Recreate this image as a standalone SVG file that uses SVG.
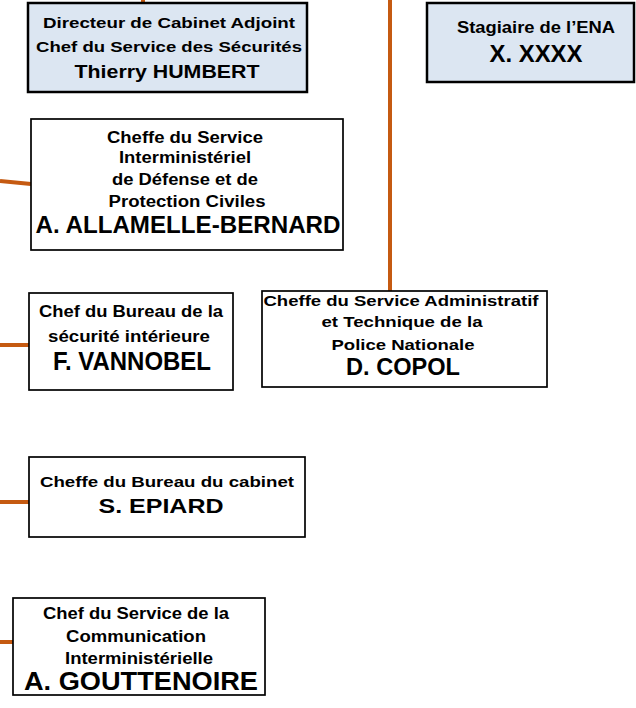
<svg xmlns="http://www.w3.org/2000/svg" width="636" height="708" viewBox="0 0 636 708">
<style>
text{font-family:"Liberation Sans",Arial,sans-serif;font-weight:bold;fill:#000;text-anchor:middle}
.s{font-size:15px}
.m{font-size:16px}
.n{font-size:17px}
.l{font-size:24px}
.box{fill:#fff;stroke:#000;stroke-width:1.7}
.blue{fill:#dce6f2;stroke:#000;stroke-width:2.5}
.c{stroke:#c55a11;stroke-width:4;fill:none}
</style>
<rect width="636" height="708" fill="#fff"/>
<g id="connectors">
<line class="c" x1="143" y1="0" x2="143" y2="4"/>
<line class="c" x1="390" y1="0" x2="390" y2="291"/>
<line class="c" x1="0" y1="181" x2="31" y2="184"/>
<line class="c" x1="0" y1="345" x2="29" y2="345"/>
<line class="c" x1="0" y1="502" x2="29" y2="502"/>
<line class="c" x1="0" y1="642" x2="13" y2="642"/>
</g>
<g id="directeur">
<rect class="blue" x="28" y="3" width="279" height="89"/>
<text class="s" x="169" y="28" textLength="252" lengthAdjust="spacingAndGlyphs">Directeur de Cabinet Adjoint</text>
<text class="s" x="169" y="52" textLength="266" lengthAdjust="spacingAndGlyphs">Chef du Service des Sécurités</text>
<text x="167" y="78" font-size="18" textLength="185" lengthAdjust="spacingAndGlyphs">Thierry  HUMBERT</text>
</g>
<g id="stagiaire">
<rect class="blue" x="427" y="3" width="207" height="79"/>
<text class="m" x="536" y="33" textLength="158" lengthAdjust="spacingAndGlyphs">Stagiaire de l’ENA</text>
<text x="536" y="62" font-size="23" textLength="93" lengthAdjust="spacingAndGlyphs">X. XXXX</text>
</g>
<g id="allamelle">
<rect class="box" x="31" y="119" width="312" height="131"/>
<text class="m" x="185" y="143" textLength="156" lengthAdjust="spacingAndGlyphs">Cheffe du Service</text>
<text class="m" x="185" y="163" textLength="132" lengthAdjust="spacingAndGlyphs">Interministériel</text>
<text class="m" x="185" y="185" textLength="146" lengthAdjust="spacingAndGlyphs">de Défense et de</text>
<text class="m" x="187" y="207" textLength="157" lengthAdjust="spacingAndGlyphs">Protection Civiles</text>
<text class="l" x="188" y="233" textLength="305" lengthAdjust="spacingAndGlyphs">A. ALLAMELLE-BERNARD</text>
</g>
<g id="vannobel">
<rect class="box" x="29" y="293" width="204" height="97"/>
<text class="n" x="131" y="317" textLength="184" lengthAdjust="spacingAndGlyphs">Chef du Bureau de la</text>
<text class="n" x="129" y="342" textLength="162" lengthAdjust="spacingAndGlyphs">sécurité intérieure</text>
<text x="132" y="370" font-size="25" textLength="158" lengthAdjust="spacingAndGlyphs">F. VANNOBEL</text>
</g>
<g id="copol">
<rect class="box" x="262" y="291" width="285" height="96"/>
<text class="s" x="401" y="306" textLength="275" lengthAdjust="spacingAndGlyphs">Cheffe du Service Administratif</text>
<text class="s" x="402" y="327" textLength="161" lengthAdjust="spacingAndGlyphs">et Technique de la</text>
<text class="s" x="403" y="350" textLength="143" lengthAdjust="spacingAndGlyphs">Police Nationale</text>
<text class="l" x="403" y="375" textLength="114" lengthAdjust="spacingAndGlyphs">D. COPOL</text>
</g>
<g id="epiard">
<rect class="box" x="29" y="457" width="276" height="80"/>
<text class="s" x="167" y="487" textLength="254" lengthAdjust="spacingAndGlyphs">Cheffe du Bureau du cabinet</text>
<text x="161" y="513" font-size="21" textLength="125" lengthAdjust="spacingAndGlyphs">S. EPIARD</text>
</g>
<g id="gouttenoire">
<rect class="box" x="13" y="598" width="252" height="97"/>
<text class="m" x="136" y="619" textLength="186" lengthAdjust="spacingAndGlyphs">Chef du Service de la</text>
<text class="m" x="136" y="642" textLength="140" lengthAdjust="spacingAndGlyphs">Communication</text>
<text class="m" x="139" y="664" textLength="148" lengthAdjust="spacingAndGlyphs">Interministérielle</text>
<text x="141" y="690" font-size="25" textLength="234" lengthAdjust="spacingAndGlyphs">A. GOUTTENOIRE</text>
</g>
</svg>
